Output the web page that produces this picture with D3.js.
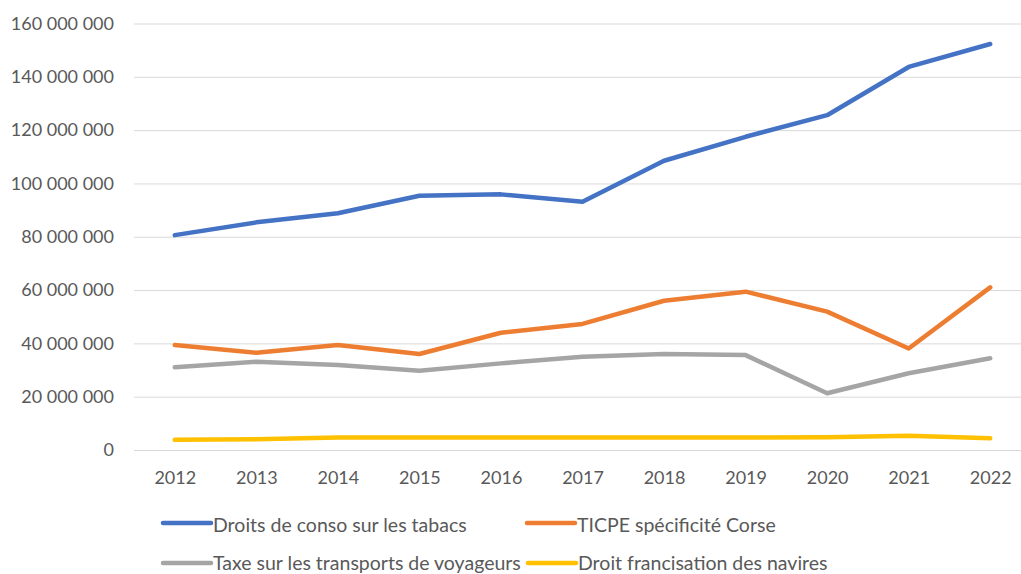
<!DOCTYPE html>
<html>
<head>
<meta charset="utf-8">
<script src="https://cdn.jsdelivr.net/npm/d3@7"></script>
<style>
  body { margin: 0; background: #fff; }
  svg text { font-family: Lato, "Open Sans", sans-serif; fill: #595959; }
</style>
</head>
<body>
<div id="chart"></div>
<script>
var years = ["2012", "2013", "2014", "2015", "2016", "2017", "2018", "2019", "2020", "2021", "2022"]

var tabacs = [80.6, 85.4, 88.8, 95.4, 95.9, 93.1, 108.5, 117.5, 125.6, 143.7, 152.3]
var ticpe = [39.4, 36.5, 39.4, 36.0, 44.0, 47.3, 56.0, 59.4, 51.9, 38.1, 61.0]
var transports = [31.0, 33.1, 31.9, 29.7, 32.5, 35.0, 36.0, 35.6, 21.3, 28.8, 34.4]
var navires = [3.8, 4.0, 4.7, 4.7, 4.7, 4.7, 4.7, 4.7, 4.8, 5.3, 4.4]

var seriesNames = ["Droits de conso sur les tabacs", "TICPE spécificité Corse",
    "Taxe sur les transports de voyageurs", "Droit francisation des navires"]
var seriesColors = ["#4472c4", "#ed7d31", "#a5a5a5", "#ffc000"]
var yTicks = [0, 20, 40, 60, 80, 100, 120, 140, 160]

var series = [tabacs, ticpe, transports, navires]

var w = 1021
var h = 574

var svg = d3.select('#chart').append('svg')
    .attr('width', w)
    .attr('height', h)

var x = d3.scalePoint()
    .domain(years)
    .range([134, 1031])
    .padding(0.5)

var y = d3.scaleLinear()
    .domain([0, 160])
    .range([450, 23.5])

// millions -> "160 000 000"
var fmt = d3.formatLocale({decimal: ",", thousands: " ", grouping: [3], currency: ["", " €"]}).format(",")

// grid
svg.append('g')
    .attr('transform', 'translate(134,0)')
    .call(d3.axisLeft(y).tickValues(yTicks).tickSize(-(w - 134)).tickFormat(''))
    .call(function(g){
        g.select('.domain').remove()
        g.selectAll('line').attr('stroke', '#d9d9d9').attr('stroke-width', 1)
    })

// y labels
svg.append('g')
    .attr('transform', 'translate(134,0)')
    .call(d3.axisLeft(y).tickValues(yTicks).tickSize(0).tickPadding(20)
        .tickFormat(function(d){ return fmt(d * 1000000) }))
    .call(function(g){
        g.select('.domain').remove()
        g.selectAll('text').attr('font-size', 18).style('fill', '#595959')
            .style('font-family', 'Lato, "Open Sans", sans-serif')
    })

// x labels
svg.append('g')
    .attr('transform', 'translate(0,450)')
    .call(d3.axisBottom(x).tickSize(0).tickPadding(21))
    .call(function(g){
        g.select('.domain').remove()
        g.selectAll('text').attr('font-size', 18).style('fill', '#595959')
            .style('font-family', 'Lato, "Open Sans", sans-serif')
    })

var line = d3.line()
    .x(function(d, i){ return x(years[i]) })
    .y(function(d){ return y(d) })

svg.selectAll('path.serie')
    .data(series)
    .enter()
    .append('path')
    .attr('class', 'serie')
    .attr('d', line)
    .attr('fill', 'none')
    .attr('stroke', function(d, i){ return seriesColors[i] })
    .attr('stroke-width', 4.5)
    .attr('stroke-linecap', 'round')
    .attr('stroke-linejoin', 'round')

// legend (2nd row sits right on the bottom edge, keep descenders inside)
var legPos = [[163, 523], [527, 523], [163, 563], [528, 563]]
var leg = svg.selectAll('g.leg')
    .data(seriesNames)
    .enter()
    .append('g')
    .attr('class', 'leg')
    .attr('transform', function(d, i){ return 'translate(' + legPos[i][0] + ',' + legPos[i][1] + ')' })

leg.append('line')
    .attr('x1', 0).attr('x2', 48)
    .attr('y1', 0).attr('y2', 0)
    .attr('stroke', function(d, i){ return seriesColors[i] })
    .attr('stroke-width', 4.5)
    .attr('stroke-linecap', 'round')

leg.append('text')
    .attr('x', 50)
    .attr('y', function(d, i){ return i < 2 ? 8.5 : 6.5 })
    .attr('font-size', 19.5)
    .text(function(d){ return d })
</script>
</body>
</html>
